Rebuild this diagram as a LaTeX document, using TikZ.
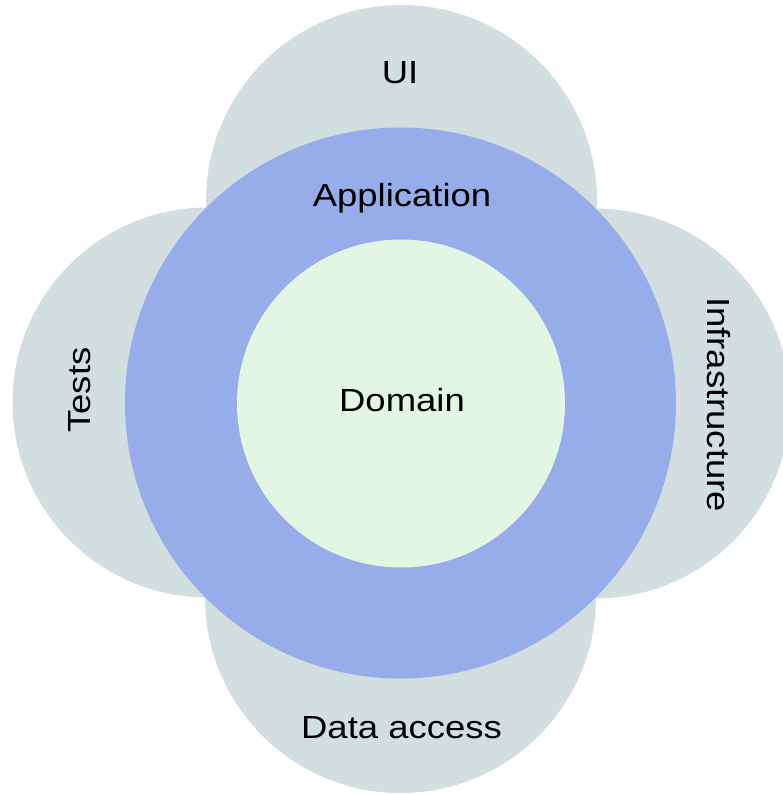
\documentclass[tikz,border=0pt]{standalone}
\usepackage{fontspec}
\setmainfont[FakeStretch=1.14]{Liberation Sans}
\definecolor{outergray}{HTML}{D3DEE1}
\definecolor{appblue}{HTML}{96ADE9}
\definecolor{domgreen}{HTML}{E3F6E4}
\begin{document}
\begin{tikzpicture}[x=1pt,y=-1pt,
  lbl/.style={inner sep=0pt, font=\fontsize{32}{38}\selectfont, text=black, anchor=base}]
\useasboundingbox (0,0) rectangle (782,795);
% outer gray layer
\fill[outergray] (206,207) rectangle (597,598);
\fill[outergray] (401.5,200.5) circle[radius=195.5];
\fill[outergray] (400.5,597.5) circle[radius=195.5];
\fill[outergray] (207.5,402.5) circle[radius=195];
\fill[outergray] (595,403.5) circle[radius=195];
% application ring
\fill[appblue] (400.5,403) circle[radius=275.5];
% domain
\fill[domgreen] (401,403.5) circle[radius=164];
% labels
\node[lbl] (ui) at (400,83) {UI};
\node[lbl] (app) at (402,206) {Application};
\node[lbl] (dom) at (402,411.5) {Domain};
\node[lbl] (data) at (401.5,738) {Data access};
\node[lbl, rotate=90] (tests) at (90,390) {Tests};
\node[lbl, rotate=-90] (infra) at (707,404.5) {Infrastructure};
\end{tikzpicture}
\end{document}
